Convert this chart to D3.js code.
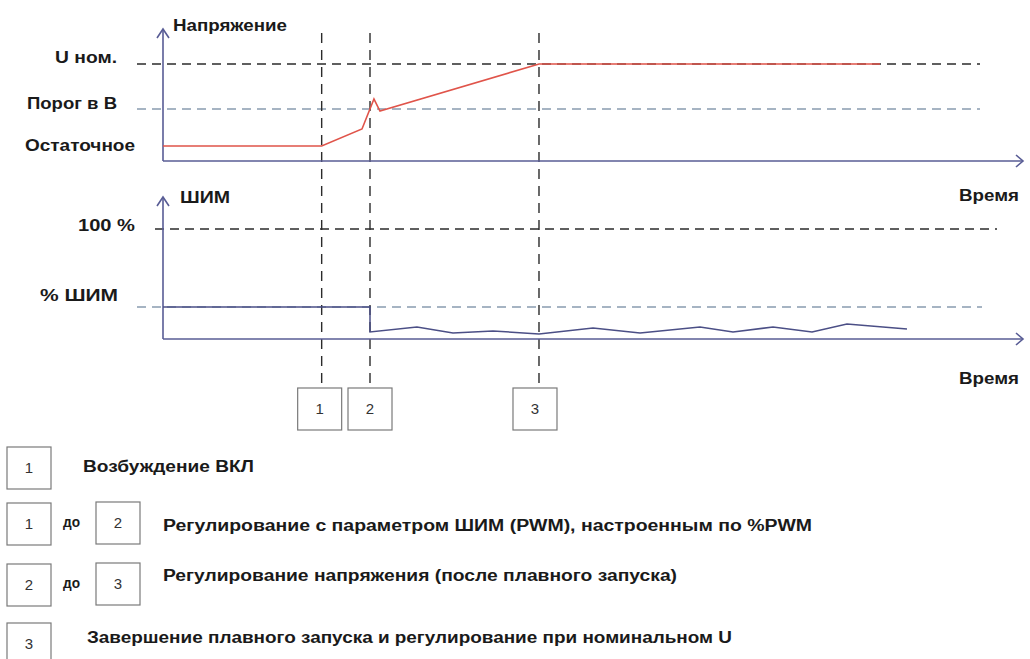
<!DOCTYPE html>
<meta charset="utf-8">
<head>
  <title>Плавный запуск</title>
</head>

<style>
body { margin: 0; background: #fff; }
text { font-family: "Liberation Sans", Arial, sans-serif; font-weight: bold; fill: #1a1a1a; }
.axis { stroke: #585c95; stroke-width: 1.6; fill: none; }
.dash-black { stroke: #2b2b2b; stroke-width: 1.3; stroke-dasharray: 9 6; }
.dash-blue { stroke: #4f6a88; stroke-width: 1.1; stroke-dasharray: 9 6; }
.vline { stroke: #2b2b2b; stroke-width: 1.4; stroke-dasharray: 10 7; }
.box rect { fill: #fff; stroke: #7a7a7a; stroke-width: 1.2; }
.box text { font-family: "Liberation Sans", Arial, sans-serif; font-weight: normal; font-size: 15px; fill: #333; }
</style>

<body>
  <svg width="1030" height="659"></svg>

  <script src="https://cdn.jsdelivr.net/npm/d3@7"></script>
  <script>
// event markers (time units)
var eventIds = [1, 2, 3];
var eventTimes = [18.45, 24.07, 43.72];

// voltage levels
var voltageNames = ["U ном.", "Порог в В", "Остаточное"];
var voltageLevels = [100, 53.6, 15.5];

// voltage curve
var voltageT = [0, 18.45, 23.14, 24.53, 25.23, 43.72, 83.37];
var voltageV = [15.5, 15.5, 33, 63.9, 51.5, 100, 100];

// PWM levels
var pwmNames = ["100 %", "% ШИМ"];
var pwmLevels = [100, 29.1];

// PWM curve
var pwmT = [0, 24.07, 24.07, 29.53, 33.72, 38.37, 43.72, 50.0, 55.47, 62.44, 66.28, 70.93, 75.47, 79.53, 86.51];
var pwmV = [29.1, 29.1, 6.4, 10.9, 5.5, 7.3, 4.5, 10, 5.5, 10.9, 6.4, 10.9, 6.4, 13.6, 9.1];

// legend rows
var legendRows = [
  { a: 1, b: null, text: "Возбуждение ВКЛ" },
  { a: 1, b: 2, text: "Регулирование с параметром ШИМ (PWM), настроенным по %PWM" },
  { a: 2, b: 3, text: "Регулирование напряжения (после плавного запуска)" },
  { a: 3, b: null, text: "Завершение плавного запуска и регулирование при номинальном U" }
];

var svg = d3.select("svg");

var x = d3.scaleLinear().domain([0, 100]).range([163, 1023]);
var yV = d3.scaleLinear().domain([0, 100]).range([161, 64]);
var yP = d3.scaleLinear().domain([0, 100]).range([339, 229]);

function fitText(sel, w) {
  sel.attr("textLength", w).attr("lengthAdjust", "spacingAndGlyphs");
}

// ---- reference lines
var refTop = svg.append("g");
refTop.selectAll("line")
  .data(voltageLevels.slice(0, 2))
  .enter()
  .append("line")
  .attr("class", function(d, i) { return i == 0 ? "dash-black" : "dash-blue"; })
  .attr("x1", 137)
  .attr("x2", 980)
  .attr("y1", function(d) { return yV(d); })
  .attr("y2", function(d) { return yV(d); });

var refBot = svg.append("g");
refBot.selectAll("line")
  .data(pwmLevels)
  .enter()
  .append("line")
  .attr("class", function(d, i) { return i == 0 ? "dash-black" : "dash-blue"; })
  .attr("x1", function(d, i) { return i == 0 ? 155 : 137; })
  .attr("x2", function(d, i) { return i == 0 ? 997 : 982; })
  .attr("y1", function(d) { return yP(d); })
  .attr("y2", function(d) { return yP(d); });

// ---- event verticals
svg.append("g").selectAll("line")
  .data(eventTimes)
  .enter()
  .append("line")
  .attr("class", "vline")
  .attr("x1", function(d) { return x(d); })
  .attr("x2", function(d) { return x(d); })
  .attr("y1", 33)
  .attr("y2", 388);

// ---- axes
function drawAxes(y, top) {
  var g = svg.append("g");
  g.append("line").attr("class", "axis")
    .attr("x1", x(0)).attr("x2", x(0)).attr("y1", y(0)).attr("y2", top);
  g.append("line").attr("class", "axis")
    .attr("x1", x(0)).attr("x2", x(100)).attr("y1", y(0)).attr("y2", y(0));
  g.append("path").attr("class", "axis")
    .attr("d", "M" + (x(0) - 6) + "," + (top + 9) + "L" + x(0) + "," + top + "L" + (x(0) + 6) + "," + (top + 9));
  g.append("path").attr("class", "axis")
    .attr("d", "M" + (x(100) - 7) + "," + (y(0) - 6) + "L" + x(100) + "," + y(0) + "L" + (x(100) - 7) + "," + (y(0) + 6));
}
drawAxes(yV, 29);
drawAxes(yP, 197);

// ---- curves
var vLine = d3.line()
  .x(function(d, i) { return x(voltageT[i]); })
  .y(function(d) { return yV(d); });
svg.append("path")
  .attr("d", vLine(voltageV))
  .attr("fill", "none")
  .attr("stroke", "#e0544a")
  .attr("stroke-width", 1.6);

var pLine = d3.line()
  .x(function(d, i) { return x(pwmT[i]); })
  .y(function(d) { return yP(d); });
svg.append("path")
  .attr("d", pLine(pwmV))
  .attr("fill", "none")
  .attr("stroke", "#4b4f86")
  .attr("stroke-width", 1.5);

// ---- level labels
var vLabelW = [62, 90, 110];
svg.append("g").selectAll("text")
  .data(voltageNames)
  .enter()
  .append("text")
  .attr("x", function(d, i) { return [117, 117, 135][i]; })
  .attr("y", function(d, i) { return yV(voltageLevels[i]) + [-1, 0, 5][i]; })
  .attr("text-anchor", "end")
  .attr("font-size", 16)
  .text(function(d) { return d; })
  .each(function(d, i) { fitText(d3.select(this), vLabelW[i]); });

var pLabelW = [57, 78];
svg.append("g").selectAll("text")
  .data(pwmNames)
  .enter()
  .append("text")
  .attr("x", function(d, i) { return [135, 118][i]; })
  .attr("y", function(d, i) { return yP(pwmLevels[i]) + [2, -6][i]; })
  .attr("text-anchor", "end")
  .attr("font-size", 16)
  .text(function(d) { return d; })
  .each(function(d, i) { fitText(d3.select(this), pLabelW[i]); });

// axis titles
svg.append("text").attr("x", 173).attr("y", 31).attr("font-size", 16).text("Напряжение").call(fitText, 114);
svg.append("text").attr("x", 180).attr("y", 203).attr("font-size", 16).text("ШИМ").call(fitText, 50);
svg.append("text").attr("x", 959).attr("y", 201).attr("font-size", 16).text("Время").call(fitText, 60);
svg.append("text").attr("x", 959).attr("y", 384).attr("font-size", 16).text("Время").call(fitText, 60);

// ---- event boxes
function box(g, cx, y, n) {
  var b = g.append("g").attr("class", "box");
  b.append("rect").attr("x", cx - 22).attr("y", y).attr("width", 44).attr("height", 42);
  b.append("text").attr("x", cx).attr("y", y + 26).attr("text-anchor", "middle").text(n);
}
var boxG = svg.append("g");
var boxShift = [-2, 0, -4];
eventTimes.forEach(function(t, i) {
  box(boxG, x(t) + boxShift[i], 388, eventIds[i]);
});

// ---- legend
var rowTop = [447, 503, 564, 623];
var rowTextY = [472, 531, 581, 643];
var rowTextX = [83, 163, 163, 87];
var rowTextW = [171, 649, 514, 645];
var legG = svg.append("g");
legendRows.forEach(function(r, i) {
  box(legG, 29, rowTop[i], r.a);
  if (r.b != null) {
    legG.append("text").attr("x", 63).attr("y", rowTop[i] + 24).attr("font-size", 15).text("до").call(fitText, 17);
    box(legG, 118, rowTop[i] - 1, r.b);
  }
  legG.append("text")
    .attr("x", rowTextX[i])
    .attr("y", rowTextY[i])
    .attr("font-size", 16)
    .text(r.text)
    .call(fitText, rowTextW[i]);
});

  </script>
</body>
</html>
